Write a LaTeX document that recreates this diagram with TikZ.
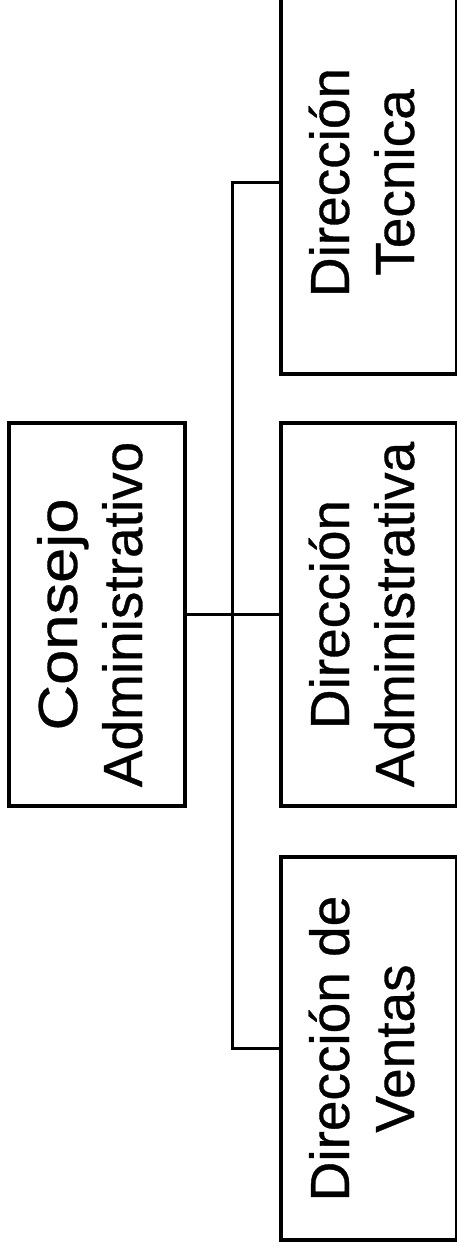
\documentclass[tikz,border=0pt]{standalone}
\usepackage{fontspec}
\setmainfont{Liberation Sans}[FakeBold=0.6]
\usepackage{graphicx}
\usepackage{tikz}
\usetikzlibrary{positioning,calc}
\newcommand{\vtext}[1]{\rotatebox{90}{\begin{tabular}{@{}c@{}}#1\end{tabular}}}

\begin{document}
\begin{tikzpicture}[x=1pt,y=-1pt,font=\fontsize{55}{65}\selectfont]
    \clip (0,0) rectangle (457,1248);
    \tikzstyle{cargo}=[draw, line width=4pt, minimum width=176pt, minimum height=383pt, inner sep=0pt]
    \tikzstyle{linea}=[line width=3.5pt]
    \node[cargo] (consejo) at (96.5,614.5) {\vtext{\scalebox{1.15}[1]{Consejo}\\Administrativo}};
    \node[cargo,right=92pt of consejo] (admin) {\vtext{Dirección\\Administrativa}};
    \node[cargo,above=45pt of admin] (tecnica) {\vtext{Dirección\\Tecnica}};
    \node[cargo,below=47pt of admin] (ventas) {\vtext{Dirección de\\Ventas}};
    \coordinate (bus) at ($(consejo.east)!0.5!(admin.west)$);
    \draw[linea] (consejo.east) -- (admin.west);
    \draw[linea] (tecnica.west) -| (bus) |- (ventas.west);
\end{tikzpicture}
\end{document}
